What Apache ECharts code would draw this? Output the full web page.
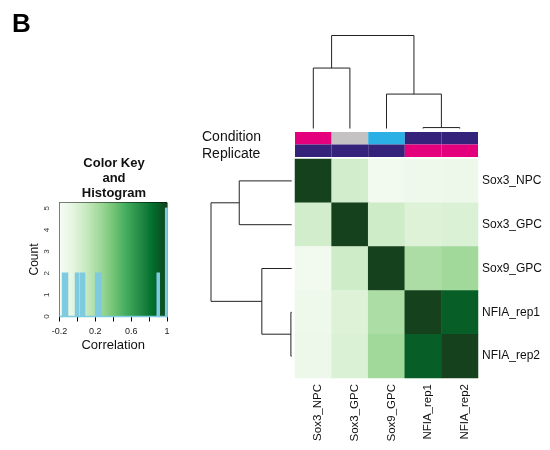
<!DOCTYPE html>
<html>
<head>
<meta charset="utf-8">
<script src="https://cdn.jsdelivr.net/npm/echarts@6/dist/echarts.min.js"></script>
<style>
  html, body { margin: 0; padding: 0; background: #fff; }
  #chart { width: 550px; height: 450px; }
</style>
</head>
<body>
<div id="chart"></div>
<script>
// Samples, in dendrogram leaf order
const samples = ['Sox3_NPC', 'Sox3_GPC', 'Sox9_GPC', 'NFIA_rep1', 'NFIA_rep2'];

// Pairwise correlation, one row per sample
const corSox3NPC = [1.00, 0.05, -0.16, -0.13, -0.12];
const corSox3GPC = [0.05, 1.00, 0.06, -0.01, 0.00];
const corSox9GPC = [-0.16, 0.06, 1.00, 0.21, 0.25];
const corNFIArep1 = [-0.13, -0.01, 0.21, 1.00, 0.90];
const corNFIArep2 = [-0.12, 0.00, 0.25, 0.90, 1.00];

// Column annotations
const conditionGroup = ['Sox3_NPC', 'Sox3_GPC', 'Sox9_GPC', 'NFIA', 'NFIA'];
const replicateGroup = ['single', 'single', 'single', 'replicate', 'replicate'];
const annotationRows = ['Condition', 'Replicate'];

// Clustering (hclust-style: negative = leaf number, positive = earlier merge step)
const treeMerge = [[-4, -5], [-3, 1], [-1, -2], [3, 2]];
const treeHeight = [0.01, 0.37, 0.65, 1.00];

// Histogram of the correlation values (bin start, bin end, count)
const histStart = [-0.2, -0.166, -0.11, -0.021, 0.01, 0.032, 0.08, 0.204, 0.263, 0.891, 0.913, 0.985];
const histEnd   = [-0.166, -0.11, -0.021, 0.01, 0.032, 0.08, 0.204, 0.263, 0.891, 0.913, 0.985, 1.0];
const histCount = [0, 2, 0, 2, 0, 2, 0, 2, 0, 2, 0, 5];

// Colour key range and labelled ticks
const keyMin = -0.2;
const keyMax = 1.0;
const keyLabelled = [-0.2, 0.2, 0.6, 1];

// Styling
const FONT = '"Liberation Sans", Arial, Helvetica, sans-serif';
const greens = ['#f7fcf5', '#e5f5e0', '#c7e9c0', '#a1d99b', '#74c476', '#41ab5d', '#238b45', '#006d2c', '#15411c'];
const annotationColor = {
  Sox3_NPC: '#e4007d', Sox3_GPC: '#c4c2c2', Sox9_GPC: '#2bb0e6', NFIA: '#35227a',
  single: '#35227a', replicate: '#e4007d'
};
const histColor = '#7ecbe0';
const treeColor = '#222';

const corRows = [corSox3NPC, corSox3GPC, corSox9GPC, corNFIArep1, corNFIArep2];
const heatData = [];
corRows.forEach((row, r) => row.forEach((v, c) => heatData.push([c, r, v])));

const annData = [];
const annFill = [];
[conditionGroup, replicateGroup].forEach((grp, r) => grp.forEach((g, c) => {
  annData.push([c, r]);
  annFill.push(annotationColor[g]);
}));

// Dendrogram segments as [position, height] pairs
function treeSegments() {
  const pos = [], hgt = [];
  const node = (id) => id < 0 ? [-id - 1 + 0.5, 0] : [pos[id - 1], hgt[id - 1]];
  const segs = [];
  treeMerge.forEach((m, k) => {
    const a = node(m[0]), b = node(m[1]), h = treeHeight[k];
    segs.push([[a[0], a[1]], [a[0], h]]);
    segs.push([[b[0], b[1]], [b[0], h]]);
    segs.push([[a[0], h], [b[0], h]]);
    pos.push((a[0] + b[0]) / 2);
    hgt.push(h);
  });
  return segs;
}
const segs = treeSegments();

function treeRender(swap) {
  return function (params, api) {
    return {
      type: 'group',
      children: segs.map(s => {
        const p1 = api.coord(swap ? [s[0][1], s[0][0]] : s[0]);
        const p2 = api.coord(swap ? [s[1][1], s[1][0]] : s[1]);
        return { type: 'line', shape: { x1: p1[0], y1: p1[1], x2: p2[0], y2: p2[1] },
                 style: { stroke: treeColor, lineWidth: 1 } };
      })
    };
  };
}

const histData = histStart.map((s, i) => [s, histEnd[i], histCount[i]]);

const chart = echarts.init(document.getElementById('chart'), null, { renderer: 'canvas' });
chart.setOption({
  animation: false,
  backgroundColor: '#fff',
  textStyle: { fontFamily: FONT, color: '#111' },
  title: {
    text: 'Color Key\nand\nHistogram',
    left: 109, top: 151, textAlign: 'center',
    textStyle: { fontFamily: FONT, fontSize: 13, fontWeight: 'bold', lineHeight: 15, color: '#111' }
  },
  graphic: [{
    type: 'text', left: 12, top: 12,
    style: { text: 'B', fontFamily: FONT, fontSize: 26, fontWeight: 'bold', fill: '#000' }
  }],
  grid: [
    { left: 59.5, top: 202.5, width: 107.5, height: 114, show: true, borderColor: '#000', borderWidth: 1 },
    { left: 295, top: 35.5, width: 183, height: 93 },
    { left: 211, top: 159, width: 80.7, height: 219 },
    { left: 295, top: 132, width: 183, height: 25 },
    { left: 295, top: 159, width: 183, height: 219 }
  ],
  xAxis: [
    { gridIndex: 0, type: 'value', min: keyMin, max: keyMax, interval: 0.2,
      name: 'Correlation', nameLocation: 'middle', nameGap: 22,
      nameTextStyle: { fontSize: 13, fontFamily: FONT, color: '#111' },
      axisLine: { show: false }, splitLine: { show: false },
      axisTick: { show: true, length: 5, lineStyle: { color: '#000' } },
      axisLabel: { fontSize: 9, margin: 11, color: '#222', fontFamily: FONT,
        formatter: v => keyLabelled.some(k => Math.abs(k - v) < 1e-6) ? String(+v.toFixed(1)) : '' } },
    { gridIndex: 1, type: 'value', min: 0, max: samples.length, show: false },
    { gridIndex: 2, type: 'value', min: 0, max: 1, inverse: true, show: false },
    { gridIndex: 3, type: 'category', data: samples, show: false },
    { gridIndex: 4, type: 'category', data: samples,
      axisLine: { show: false }, axisTick: { show: false },
      axisLabel: { rotate: 90, interval: 0, fontSize: 11.5, margin: 6, color: '#111', fontFamily: FONT,
        verticalAlign: 'top', lineHeight: 10 } }
  ],
  yAxis: [
    { gridIndex: 0, type: 'value', min: 0, max: 5.27, interval: 1,
      name: 'Count', nameLocation: 'middle', nameGap: 19, nameRotate: 90,
      nameTextStyle: { fontSize: 12, fontFamily: FONT, color: '#111' },
      axisLine: { show: false }, splitLine: { show: false },
      axisTick: { show: true, length: 5, lineStyle: { color: '#000' } },
      axisLabel: { fontSize: 8, rotate: 90, margin: 9, color: '#333', fontFamily: FONT } },
    { gridIndex: 1, type: 'value', min: 0, max: 1, show: false },
    { gridIndex: 2, type: 'value', min: 0, max: samples.length, inverse: true, show: false },
    { gridIndex: 3, type: 'category', data: annotationRows, inverse: true,
      axisLine: { show: false }, axisTick: { show: false },
      axisLabel: { align: 'left', margin: 93, interval: 0, hideOverlap: false, fontFamily: FONT,
        formatter: v => (v === 'Condition' ? '{c|' : '{r|') + v + '}',
        rich: {
          c: { fontSize: 14, color: '#111', fontFamily: FONT, padding: [0, 0, 2, 0] },
          r: { fontSize: 14, color: '#111', fontFamily: FONT, padding: [7, 0, 0, 0] }
        } } },
    { gridIndex: 4, type: 'category', data: samples, inverse: true, position: 'right',
      axisLine: { show: false }, axisTick: { show: false },
      axisLabel: { fontSize: 12, margin: 4, interval: 0, color: '#111', fontFamily: FONT } }
  ],
  visualMap: {
    show: false, seriesIndex: 5, min: keyMin, max: keyMax, dimension: 2,
    inRange: { color: greens }
  },
  series: [
    { // colour key gradient
      type: 'custom', xAxisIndex: 0, yAxisIndex: 0, z: 1, silent: true,
      data: [[keyMin, keyMax]],
      renderItem: (params, api) => {
        const cs = params.coordSys;
        const xa = api.coord([api.value(0), 0])[0];
        const xb = api.coord([api.value(1), 0])[0];
        return { type: 'rect', shape: { x: xa, y: cs.y, width: xb - xa, height: cs.height },
          style: { fill: new echarts.graphic.LinearGradient(0, 0, 1, 0,
            greens.map((c, i) => ({ offset: i / (greens.length - 1), color: c }))) } };
      }
    },
    { // histogram bins
      type: 'custom', xAxisIndex: 0, yAxisIndex: 0, z: 3, data: histData,
      renderItem: (params, api) => {
        const p0 = api.coord([api.value(0), api.value(2)]);
        const p1 = api.coord([api.value(1), 0]);
        return { type: 'rect', shape: { x: p0[0], y: p0[1], width: p1[0] - p0[0], height: p1[1] - p0[1] },
          style: { fill: histColor, stroke: histColor, lineWidth: 1.5 } };
      }
    },
    { type: 'custom', xAxisIndex: 1, yAxisIndex: 1, data: [0], renderItem: treeRender(false) },
    { type: 'custom', xAxisIndex: 2, yAxisIndex: 2, data: [0], renderItem: treeRender(true) },
    { // annotation colour bars
      type: 'custom', xAxisIndex: 3, yAxisIndex: 3, data: annData,
      renderItem: (params, api) => {
        const p = api.coord([api.value(0), api.value(1)]);
        const s = api.size([1, 1]);
        return { type: 'rect', shape: { x: p[0] - s[0] / 2, y: p[1] - s[1] / 2, width: s[0], height: s[1] },
          style: { fill: annFill[params.dataIndex] } };
      }
    },
    { type: 'heatmap', xAxisIndex: 4, yAxisIndex: 4, data: heatData, itemStyle: { borderWidth: 0 } }
  ]
});
</script>
</body>
</html>
